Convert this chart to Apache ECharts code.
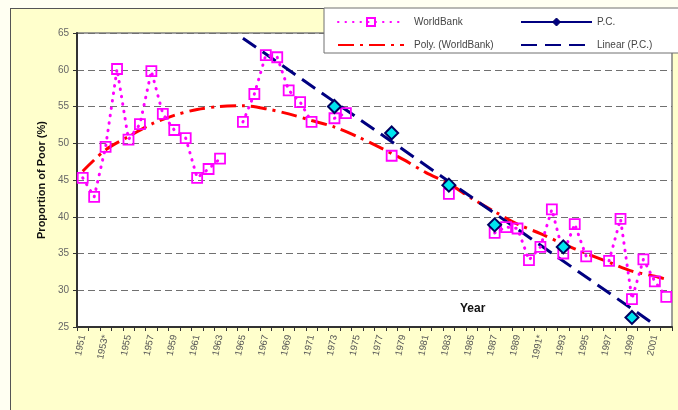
<!DOCTYPE html>
<html>
<head>
<meta charset="utf-8">
<script src="https://cdn.jsdelivr.net/npm/echarts@6/dist/echarts.min.js"></script>
<style>
  html, body { margin: 0; padding: 0; background: #FFFFF2; }
  #wrap { position: relative; width: 678px; height: 410px; overflow: hidden; }
  #box { position: absolute; left: 10px; top: 8px; width: 700px; height: 420px;
         background: #FFFFCC; border-left: 1px solid #555; border-top: 1px solid #555; }
  #chart { position: absolute; left: 0; top: 0; width: 678px; height: 410px; }
</style>
</head>
<body>
<div id="wrap"><div id="box"></div><div id="chart"></div></div>
<script>
// ---- data ----
const categories = ['1951','1952','1953*','1954','1955','1956','1957','1958','1959','1960',
  '1961','1962','1963','1964','1965','1966','1967','1968','1969','1970',
  '1971','1972','1973','1974','1975','1976','1977','1978','1979','1980',
  '1981','1982','1983','1984','1985','1986','1987','1988','1989','1990',
  '1991*','1992','1993','1994','1995','1996','1997','1998','1999','2000',
  '2001','2002'];

const worldBank = [45.3, 42.7, 49.5, 60.1, 50.5, 52.6, 59.8, 54.0, 51.8, 50.7,
  45.3, 46.5, 47.9, null, 52.9, 56.7, 62.0, 61.7, 57.2, 55.6,
  52.9, null, 53.4, 54.1, null, null, null, 48.3, null, null,
  null, null, 43.1, null, null, null, 37.8, 38.6, 38.4, 34.1,
  35.9, 41.0, 35.0, 39.0, 34.6, null, 34.0, 39.7, 28.8, 34.2,
  31.2, 29.1];

const pc = [null, null, null, null, null, null, null, null, null, null,
  null, null, null, null, null, null, null, null, null, null,
  null, null, 55.0, null, null, null, null, 51.4, null, null,
  null, null, 44.3, null, null, null, 38.9, null, null, null,
  null, null, 35.9, null, null, null, null, null, 26.3, null,
  null, null];

// polynomial trend of WorldBank (odd years + last)
const polyWorldBank = [46.2, null, 49.1, null, 50.9, null, 52.6, null, 53.8, null,
  54.6, null, 55.0, null, 55.1, null, 54.7, null, 54.0, null,
  53.1, null, 52.2, null, 50.9, null, 49.4, null, 47.8, null,
  46.0, null, 44.5, null, 42.5, null, 40.7, null, 39.0, null,
  37.7, null, 36.3, null, 35.0, null, 33.8, null, 32.6, null,
  31.9, 31.5];

// linear trend of P.C., end points
const linearPC = [null, null, null, null, null, null, null, null, null, null,
  null, null, null, null, 64.3, null, null, null, null, null,
  null, null, null, null, null, null, null, null, null, null,
  null, null, null, null, null, null, null, null, null, null,
  null, null, null, null, null, null, null, null, null, null,
  25.3, null];

const yTicks = { min: 25, max: 65, step: 5 };

const chart = echarts.init(document.getElementById('chart'), null, { renderer: 'canvas' });
const txt = '#555';
const font = 'Liberation Sans, Arial, sans-serif';
const option = {
  backgroundColor: 'transparent',
  animation: false,
  grid: { left: 77, top: 33, right: 6, bottom: 83, show: true,
          backgroundColor: '#FFFFFF', borderColor: '#808080', borderWidth: 1.5 },
  xAxis: {
    type: 'category', data: categories, boundaryGap: true,
    axisLine: { lineStyle: { color: '#333', width: 2 } },
    axisTick: { show: true, interval: 0, length: 4, inside: false, lineStyle: { color: '#333', width: 1 } },
    axisLabel: { interval: 1, rotate: 78, margin: 8, color: txt, fontSize: 9.5, fontFamily: font },
    splitLine: { show: false }
  },
  yAxis: {
    type: 'value', min: yTicks.min, max: yTicks.max, interval: yTicks.step,
    name: 'Proportion of Poor (%)', nameLocation: 'middle', nameGap: 28, nameRotate: 90,
    nameTextStyle: { color: '#111', fontSize: 11, fontWeight: 'bold', fontFamily: font },
    axisLine: { show: true, lineStyle: { color: '#333', width: 2 } },
    axisTick: { show: true, length: 4, lineStyle: { color: '#333' } },
    axisLabel: { color: '#666', fontSize: 10, margin: 8,
                 fontFamily: 'Liberation Sans Narrow, Liberation Sans, Arial, sans-serif' },
    splitLine: { show: true, lineStyle: { color: '#707070', width: 1, type: [7, 4] } }
  },
  legend: [
    { data: ['WorldBank', { name: 'Poly. (WorldBank)', itemStyle: { opacity: 0 } }],
      orient: 'vertical', left: 332, top: 12,
      itemWidth: 66, itemHeight: 10, itemGap: 13, z: 20,
      textStyle: { color: '#444', fontSize: 10, padding: [0, 0, 0, 5], fontFamily: font } },
    { data: [{ name: 'P.C.', itemStyle: { color: '#000080', borderWidth: 1 } },
             { name: 'Linear (P.C.)', itemStyle: { opacity: 0 } }],
      orient: 'vertical', left: 515, top: 12,
      itemWidth: 71, itemHeight: 10, itemGap: 13, z: 20,
      textStyle: { color: '#444', fontSize: 10, padding: [0, 0, 0, 0], fontFamily: font } }
  ],
  graphic: [
    { type: 'rect', z: 10, shape: { x: 324, y: 8, width: 400, height: 45 },
      style: { fill: '#FFFFFF', stroke: '#707070', lineWidth: 1 } },
    { type: 'text', z: 10, left: 460, top: 303,
      style: { text: 'Year', fill: '#111', font: 'bold 12px ' + font } }
  ],
  series: [
    { name: 'Poly. (WorldBank)', type: 'line', data: polyWorldBank, connectNulls: true,
      smooth: 0.3, symbol: 'none', z: 2,
      lineStyle: { color: '#FF0000', width: 3, type: [16, 6, 3, 6] },
      itemStyle: { color: '#FF0000' } },
    { name: 'Linear (P.C.)', type: 'line', data: linearPC, connectNulls: true,
      symbol: 'none', z: 3,
      lineStyle: { color: '#000080', width: 3, type: [16, 8] },
      itemStyle: { color: '#000080' } },
    { name: 'WorldBank', type: 'line', data: worldBank, connectNulls: false,
      symbol: 'rect', symbolSize: 10, showAllSymbol: true, z: 4,
      lineStyle: { color: '#FF00FF', width: 3, type: [0.5, 7], cap: 'round' },
      itemStyle: { color: 'rgba(255,255,255,0)', borderColor: '#FF00FF', borderWidth: 1.8 } },
    { name: 'P.C.', type: 'line', data: pc, connectNulls: false,
      symbol: 'diamond', symbolSize: 13, showAllSymbol: true, z: 5,
      lineStyle: { color: '#000080', width: 2 },
      itemStyle: { color: '#00E5EE', borderColor: '#000060', borderWidth: 2 } }
  ]
};
chart.setOption(option);
</script>
</body>
</html>
